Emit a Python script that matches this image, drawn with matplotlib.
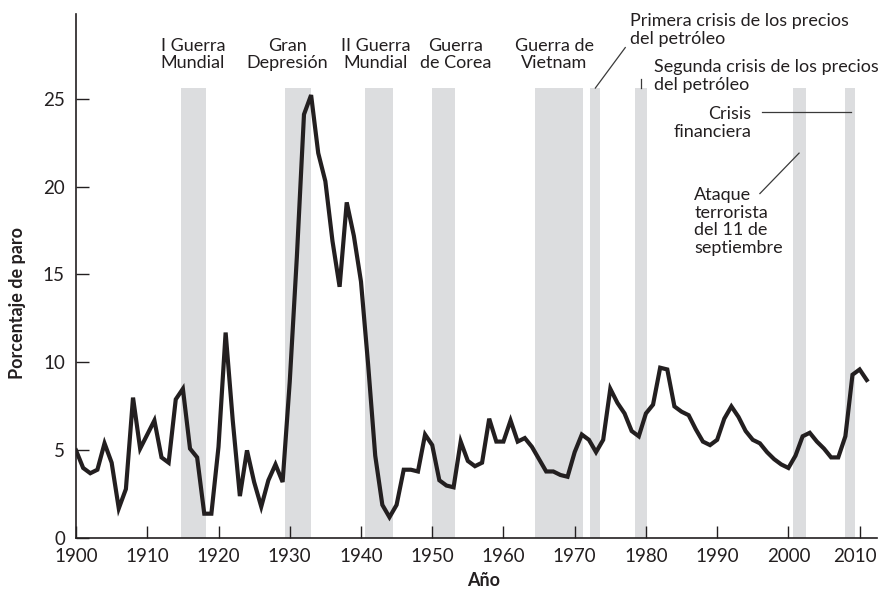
import numpy as np
import matplotlib
matplotlib.use('Agg')
from matplotlib import pyplot as plt
from matplotlib.transforms import ScaledTranslation

# tasa de paro (%) por año, 1900-2011
years = np.arange(1900, 2012)
unemployment = [
    5.0, 4.0, 3.7, 3.9, 5.4, 4.3, 1.7, 2.8, 8.0, 5.1,
    5.9, 6.7, 4.6, 4.3, 7.9, 8.5, 5.1, 4.6, 1.4, 1.4,
    5.2, 11.7, 6.7, 2.4, 5.0, 3.2, 1.8, 3.3, 4.2, 3.2,
    8.9, 16.0, 24.1, 25.2, 21.9, 20.3, 16.9, 14.3, 19.1, 17.2,
    14.6, 9.9, 4.7, 1.9, 1.2, 1.9, 3.9, 3.9, 3.8, 5.9,
    5.3, 3.3, 3.0, 2.9, 5.5, 4.4, 4.1, 4.3, 6.8, 5.5,
    5.5, 6.7, 5.5, 5.7, 5.2, 4.5, 3.8, 3.8, 3.6, 3.5,
    4.9, 5.9, 5.6, 4.9, 5.6, 8.5, 7.7, 7.1, 6.1, 5.8,
    7.1, 7.6, 9.7, 9.6, 7.5, 7.2, 7.0, 6.2, 5.5, 5.3,
    5.6, 6.8, 7.5, 6.9, 6.1, 5.6, 5.4, 4.9, 4.5, 4.2,
    4.0, 4.7, 5.8, 6.0, 5.5, 5.1, 4.6, 4.6, 5.8, 9.3,
    9.6, 9.0,
]

# periodos sombreados (inicio, fin)
shade_start = [1914.8, 1929.3, 1940.6, 1950.0, 1964.4, 1972.1, 1978.4, 2000.7, 2008.0]
shade_end = [1918.2, 1933.0, 1944.5, 1953.2, 1971.1, 1973.6, 1980.2, 2002.5, 2009.4]
shade_top = 25.6

y_ticks = [0, 5, 10, 15, 20, 25]
x_ticks = [1900, 1910, 1920, 1930, 1940, 1950, 1960, 1970, 1980, 1990, 2000, 2010]

text_color = '#231f20'
plt.rcParams['font.family'] = ['Lato', 'DejaVu Sans']

fig = plt.figure(figsize=(8.79, 5.90), dpi=100)
ax = fig.add_axes([0.0865, 0.0876, 0.9109, 0.8884])

y_max = 29.8
for x0, x1 in zip(shade_start, shade_end):
    ax.axvspan(x0, x1, ymin=0, ymax=shade_top / y_max, color='#dcdddf', lw=0, zorder=1)

ax.plot(years, unemployment, color=text_color, lw=3.0, solid_joinstyle='miter', zorder=3)

ax.set_xlim(1900, 2012.4)
ax.set_ylim(0, y_max)
ax.set_xticks(x_ticks)
ax.set_yticks(y_ticks)
ax.tick_params(direction='in', length=9, width=1, colors=text_color, labelsize=13.5, pad=7)
ax.tick_params(axis='y', pad=8)
for side in ['top', 'right']:
    ax.spines[side].set_visible(False)
for side in ['left', 'bottom']:
    ax.spines[side].set_color(text_color)
    ax.spines[side].set_linewidth(1.2)

# el último año queda pegado al borde: se desplaza un poco a la izquierda
last_label = ax.get_xticklabels()[-1]
last_label.set_transform(last_label.get_transform() + ScaledTranslation(-5 / 100, 0, fig.dpi_scale_trans))

# etiquetas de los acontecimientos
label_kw = dict(fontsize=13, color=text_color, linespacing=1.12, clip_on=False)
ax.text(1916.4, 27.5, 'I Guerra\nMundial', ha='center', va='center', **label_kw)
ax.text(1929.7, 27.5, 'Gran\nDepresión', ha='center', va='center', **label_kw)
ax.text(1942.1, 27.5, 'II Guerra\nMundial', ha='center', va='center', **label_kw)
ax.text(1953.3, 27.5, 'Guerra\nde Corea', ha='center', va='center', **label_kw)
ax.text(1967.1, 27.5, 'Guerra de\nVietnam', ha='center', va='center', **label_kw)
ax.text(1977.7, 28.9, 'Primera crisis de los precios\ndel petróleo', ha='left', va='center', **label_kw)
ax.text(1981.1, 26.3, 'Segunda crisis de los precios\ndel petróleo', ha='left', va='center', **label_kw)
ax.text(1994.8, 23.6, 'Crisis\nfinanciera', ha='right', va='center', **label_kw)
ax.text(1986.8, 18.0, 'Ataque\nterrorista\ndel 11 de\nseptiembre', ha='left', va='center', **label_kw)

# líneas de referencia
line_kw = dict(color='#3a3a3a', lw=0.9, clip_on=False, zorder=2)
ax.plot([1972.9, 1977.1], [25.6, 27.9], **line_kw)
ax.plot([1979.3, 1979.3], [25.6, 26.1], **line_kw)
ax.plot([1996.3, 2008.8], [24.25, 24.25], **line_kw)
ax.plot([1996.0, 2001.5], [19.6, 21.9], **line_kw)

fig.text(18 / 879, 1 - 303 / 590, 'Porcentaje de paro', rotation=90, ha='center', va='center',
         fontsize=13, fontweight='bold', color=text_color)
fig.text(484 / 879, 1 - 580 / 590, 'Año', ha='center', va='center',
         fontsize=13, fontweight='bold', color=text_color)

fig.savefig('out.png', dpi=100)
